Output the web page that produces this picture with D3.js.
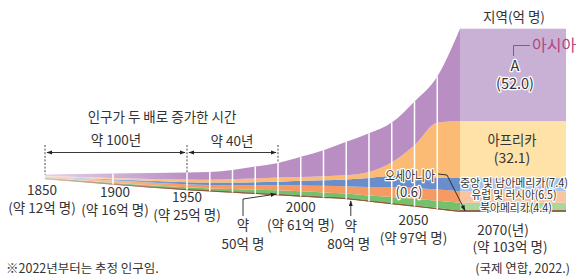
<!DOCTYPE html>
<html><head><meta charset="utf-8">
<script src="https://cdn.jsdelivr.net/npm/d3@7"></script>
<style>
html,body{margin:0;padding:0;background:#fff;}
svg{display:block;font-family:"Noto Sans CJK KR","Noto Sans",sans-serif;}
.halo{paint-order:stroke;stroke:#fff;stroke-width:2.5px;stroke-linejoin:round;}
</style></head>
<body><svg id="c" width="580" height="277"></svg>
<script>
// ---- data (억 명, apparent band sizes) ----
const years        = [1850,1900,1950,1960,1970,1980,1990,2000,2010,2020,2030,2040,2050,2060,2070];
const oceania      = [0.2,0.3,0.4,0.4,0.5,0.5,0.6,0.6,0.6,0.6,0.6,0.6,0.6,0.6,0.6];
const northAmerica = [0.3,0.7,1.1,1.2,1.5,1.8,2.1,2.3,2.4,2.5,2.8,3.4,3.8,4.1,4.4];
const europeRussia = [0.6,1.3,1.7,1.9,2.1,2.4,2.8,3.3,3.7,4.1,4.8,5.6,6.1,6.3,6.5];
const latinAmerica = [0.3,0.6,1.2,1.4,1.6,1.9,2.1,2.6,3.2,3.8,5.1,6.2,6.3,6.6,7.4];
const africa       = [0.3,0.8,1.5,1.6,1.8,2.0,2.3,2.1,2.2,2.3,3.3,7.8,17.8,31.0,32.1];
const asia         = [0.8,2.5,3.9,4.3,5.2,6.8,8.2,11.4,14.6,18.9,21.8,22.3,24.6,26.1,52.0];
const gridYears    = [1900,1950,1960,1970,1980,1990,2000,2010,2020,2030,2040,2050,2060];
const labelYears   = [1850,1900,1950,2000,2050];
const labelPops    = [12,16,25,61,97];
const totalLastPop = 103;

const keys = ["oceania","northAmerica","europeRussia","latinAmerica","africa","asia"];
const darkColors  = {oceania:"#8e5b3e",northAmerica:"#74c06c",europeRussia:"#f59a62",latinAmerica:"#6a8dcb",africa:"#fbbb74",asia:"#b98fc3"};
const lightColors = {oceania:"#8e5b3e",northAmerica:"#a8d89c",europeRussia:"#f9c4a0",latinAmerica:"#a9c3ea",africa:"#fee2a8",asia:"#c9b1d6"};
const series = {oceania,northAmerica,europeRussia,latinAmerica,africa,asia};
const table = years.map((y,i)=>{const o={year:y}; keys.forEach(k=>o[k]=series[k][i]); return o;});

const svg = d3.select("#c");
const x = d3.scaleLinear().domain([1850,1900,1950,2070]).range([45,113,187,460]);
const base = d3.scaleLinear().domain([1850,1950,2020,2070]).range([179,190,199,211.7]);
const h = d3.scaleLinear().domain([0,103]).range([0,183]);

const stacked = d3.stack().keys(keys)(table);
const defs = svg.append("defs");
const fade = defs.append("linearGradient").attr("id","fade").attr("gradientUnits","userSpaceOnUse")
  .attr("x1",45).attr("x2",190).attr("y1",0).attr("y2",0);
fade.append("stop").attr("offset",0).attr("stop-color","#fff").attr("stop-opacity",0.6);
fade.append("stop").attr("offset",0.5).attr("stop-color","#fff").attr("stop-opacity",0.3);
fade.append("stop").attr("offset",1).attr("stop-color","#fff").attr("stop-opacity",0);
const mk = defs.append("marker").attr("id","ah").attr("viewBox","0 0 10 10").attr("refX",9).attr("refY",5)
  .attr("markerWidth",6).attr("markerHeight",6).attr("orient","auto-start-reverse").attr("markerUnits","userSpaceOnUse");
mk.append("path").attr("d","M0,1.5L10,5L0,8.5Z").attr("fill","#222");

const area = d3.area()
  .x(d=>x(d.data.year))
  .y0(d=>base(d.data.year)-h(d[0]))
  .y1(d=>base(d.data.year)-h(d[1]))
  .curve(d3.curveMonotoneX);

svg.append("g").selectAll("path").data(stacked).join("path")
  .attr("d",area).attr("fill",d=>darkColors[d.key]);
// bottom line (Oceania)
svg.append("path").datum(table)
  .attr("d",d3.line().x(d=>x(d.year)).y(d=>base(d.year)-0.4).curve(d3.curveMonotoneX))
  .attr("stroke",darkColors.oceania).attr("stroke-width",1.2).attr("fill","none");
// fade on the left
svg.append("rect").attr("x",40).attr("y",160).attr("width",155).attr("height",40).attr("fill","url(#fade)");

// white vertical lines
const last = stacked[stacked.length-1];
svg.append("g").selectAll("line").data(gridYears).join("line")
  .attr("x1",d=>x(d)).attr("x2",d=>x(d))
  .attr("y1",d=>base(d))
  .attr("y2",d=>{const i=years.indexOf(d); return base(d)-h(last[i][1]);})
  .attr("stroke","#fff").attr("stroke-width",1.5);

// right panel
const li = years.length-1;
const px0 = x(2070), px1 = 566;
svg.append("g").selectAll("rect").data(stacked).join("rect")
  .attr("x",px0).attr("width",px1-px0)
  .attr("y",d=>base(2070)-h(d[li][1]))
  .attr("height",d=>h(d[li][1])-h(d[li][0]))
  .attr("fill",d=>lightColors[d.key]);
svg.append("rect").attr("x",px0).attr("width",px1-px0).attr("y",base(2070)-1.6).attr("height",1.6).attr("fill",darkColors.oceania);

const T = (t,xx,yy,o={})=>{
  const e = svg.append("text").attr("x",xx).attr("y",yy).text(t)
    .attr("font-size",o.size||13.5).attr("fill",o.fill||"#333")
    .attr("text-anchor",o.anchor||"middle");
  if(o.halo) e.attr("class","halo");
  if(o.len) e.attr("textLength",o.len).attr("lengthAdjust","spacingAndGlyphs");
  return e;
};

// doubling time annotation
T("인구가 두 배로 증가한 시간",162,122,{size:13.5});
[[1850,145,174.5],[1950,145,172.5],[1990,145,162.5]].forEach(([yr,a,b])=>{
  svg.append("line").attr("x1",x(yr)).attr("x2",x(yr)).attr("y1",a).attr("y2",b)
    .attr("stroke","#333").attr("stroke-width",0.9).attr("stroke-dasharray","2,1.6");
});
svg.append("line").attr("x1",x(1850)+2).attr("x2",x(1950)-2).attr("y1",152.5).attr("y2",152.5)
  .attr("stroke","#222").attr("stroke-width",0.9).attr("marker-start","url(#ah)").attr("marker-end","url(#ah)");
svg.append("line").attr("x1",x(1950)+2).attr("x2",x(1990)-2).attr("y1",152.5).attr("y2",152.5)
  .attr("stroke","#222").attr("stroke-width",0.9).attr("marker-start","url(#ah)").attr("marker-end","url(#ah)");
T("약 100년",116,145,{size:13.5});
T("약 40년",232,146,{size:13.5});

// year labels
const labelDy = {1850:[16,33.5],1900:[12.5,30.5],1950:[11.5,29.5],2000:[16,33.5],2050:[18.5,36.5]};
const labelDx = {1850:-3,1900:2,1950:0,2000:0,2050:-1};
labelYears.forEach((yr,i)=>{
  const cx = x(yr)+labelDx[yr];
  T(String(yr),cx,base(yr)+labelDy[yr][0],{size:13.5});
  T(`(약 ${labelPops[i]}억 명)`,cx,base(yr)+labelDy[yr][1],{size:13.5});
});
T("2070(년)",503,235,{size:13.5});
T(`(약 ${totalLastPop}억 명)`,510,252,{size:13.5});

// milestone arrows
svg.append("path").attr("d",`M243,216L243,199L${x(1990)-2},${base(1990)-1}`)
  .attr("fill","none").attr("stroke","#222").attr("stroke-width",0.9).attr("marker-end","url(#ah)");
T("약",243,230,{size:13.5}); T("50억 명",243,249,{size:13.5});
svg.append("path").attr("d",`M${x(2022)},216L${x(2022)},${base(2022)+1.5}`)
  .attr("fill","none").attr("stroke","#222").attr("stroke-width",0.9).attr("marker-end","url(#ah)");
T("약",x(2022),231,{size:13.5}); T("80억 명",x(2022)-2,249,{size:13.5});

// panel labels
T("지역(억 명)",514,22,{size:13.5});
T("A",515,71,{size:14.5,halo:true});
T(`(${asia[li].toFixed(1)})`,515,89,{size:14.5,halo:true});
svg.append("path").attr("d","M513.5,56L513.5,45.5L530,45.5").attr("fill","none").attr("stroke","#b2457e").attr("stroke-width",1);
T("아시아",532,51,{size:16,fill:"#b2457e",anchor:"start"});
T("아프리카",512,145,{size:14,len:49});
T(`(${africa[li].toFixed(1)})`,512,163,{size:14});
T(`중앙 및 남아메리카(${latinAmerica[li].toFixed(1)})`,514,186.5,{size:11.5,halo:true,len:108});
T(`유럽 및 러시아(${europeRussia[li].toFixed(1)})`,514,199,{size:11.5,halo:true,len:85});
T(`북아메리카(${northAmerica[li].toFixed(1)})`,516,212,{size:11.5,halo:true,len:72});
T("오세아니아",410,179.5,{size:13,halo:true,len:50});
T(`(${oceania[li].toFixed(1)})`,409,197,{size:13,halo:true});
svg.append("path").attr("d",`M438,174L447,175L${px0+5},${base(2070)-1}`)
  .attr("fill","none").attr("stroke","#222").attr("stroke-width",0.9).attr("marker-end","url(#ah)");

// notes
T("※2022년부터는 추정 인구임.",6,273,{size:12.5,anchor:"start"});
T("(국제 연합, 2022.)",570,273,{size:12.5,anchor:"end"});
</script></body></html>
